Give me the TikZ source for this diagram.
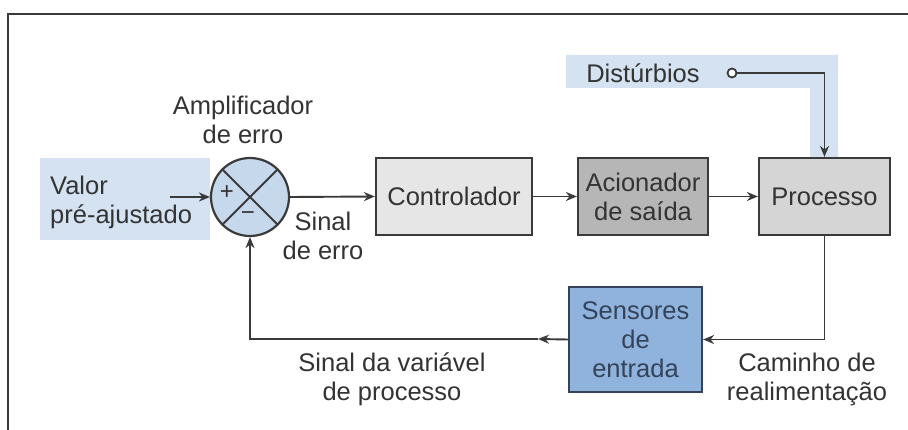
\documentclass[tikz,border=0pt]{standalone}
\usepackage{fontspec}
\setmainfont{Liberation Sans}
\usetikzlibrary{arrows.meta,calc}
\definecolor{txt}{HTML}{333333}
\definecolor{edge}{HTML}{3A3A3A}
\definecolor{bandblue}{HTML}{D5E2F1}
\definecolor{sumblue}{HTML}{C5D8EC}
\definecolor{sensblue}{HTML}{8FB3DC}
\definecolor{sensedge}{HTML}{34435A}
\definecolor{ctrlgray}{HTML}{E6E6E6}
\definecolor{actgray}{HTML}{B6B6B6}
\definecolor{procgray}{HTML}{D5D5D5}
\tikzset{
  blockbox/.style={draw=edge, line width=2.2pt, minimum height=77pt, align=center,
    text=txt, font=\fontsize{25.5}{29}\selectfont, inner sep=0pt},
  lbl/.style={text=txt, font=\fontsize{25.5}{29}\selectfont, align=center, inner sep=0pt},
  conn/.style={draw=edge, line width=1.9pt},
  arr/.style={conn, -{Stealth[length=11pt,width=9pt]}},
}
\begin{document}
\begin{tikzpicture}[x=1pt,y=-1pt]
\useasboundingbox (0,0) rectangle (908,430);
% frame
\draw[edge, line width=2.2pt] (908,14) -- (8,14) -- (8,430);
% shaded bands
\fill[bandblue] (40,158) rectangle (210,240);
\fill[bandblue] (566,55) -- (838,55) -- (838,158) -- (810,158) -- (810,88) -- (566,88) -- cycle;
% blocks
\node[blockbox, fill=ctrlgray, minimum width=156pt] (ctrl) at (454,196.5) {Controlador};
\node[blockbox, fill=actgray, minimum width=130pt] (act) at (643,196.5) {Acionador\\de saída};
\node[blockbox, fill=procgray, minimum width=131pt] (proc) at (824.5,196.5) {Processo};
\node[blockbox, fill=sensblue, draw=sensedge, text=sensedge, minimum width=133pt, minimum height=105pt] (sens) at (635.5,339.5) {Sensores\\de\\entrada};
% summing junction
\node[circle, draw=edge, line width=2.2pt, fill=sumblue, minimum size=78pt, inner sep=0pt] (sum) at (250,197) {};
\draw[edge, line width=1.9pt] (sum.north west) -- (sum.south east);
\draw[edge, line width=1.9pt] (sum.north east) -- (sum.south west);
\node[lbl, font=\fontsize{24}{26}\selectfont] (plus) at (227,193) {+};
\node[lbl, font=\fontsize{24}{26}\selectfont] (minus) at (248,216) {\textminus};
% labels
\node[lbl, align=left, anchor=west] (valor) at (50,202) {Valor\\pré-ajustado};
\node[lbl] (amp) at (243,120) {Amplificador\\de erro};
\node[lbl] (serro) at (323,236) {Sinal\\de erro};
\node[lbl] (dtxt) at (643,73) {Distúrbios};
\node[lbl] (svp) at (392,379) {Sinal da variável\\de processo};
\node[lbl] (cam) at (807,379) {Caminho de\\realimentação};
% disturbance input
\node[circle, draw=edge, line width=1.8pt, fill=white, minimum size=9pt, inner sep=0pt] (dist) at (732,73) {};
\coordinate (vin) at (170,197);
\coordinate (fbmid) at (538,339);
% connectors
\draw[arr] (vin) -- (sum.west);
\draw[arr] (sum.east) -- (ctrl.west);
\draw[arr] (ctrl.east) -- (act.west);
\draw[arr] (act.east) -- (proc.west);
\draw[arr] (dist.east) -| (proc.north);
\draw[arr] (proc.south) |- (sens.east);
\draw[arr] (sens.west) -- (fbmid);
\draw[arr] (fbmid) -| (sum.south);
\end{tikzpicture}
\end{document}
